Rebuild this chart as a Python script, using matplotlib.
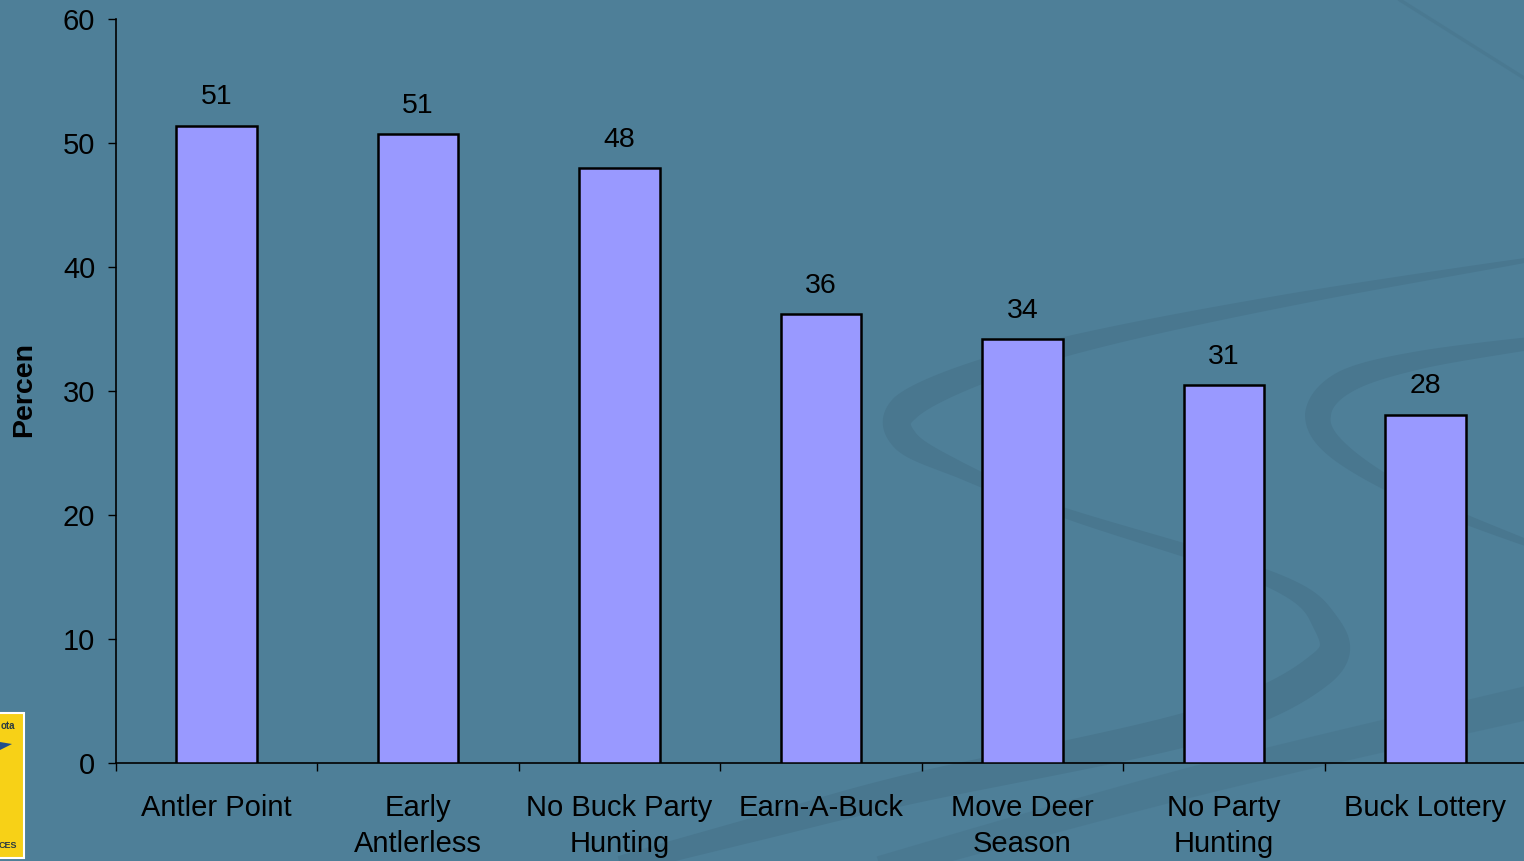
import matplotlib
matplotlib.use("Agg")
import matplotlib.pyplot as plt
from matplotlib.patches import Rectangle, Polygon
import numpy as np

categories = ["Antler Point", "Early\nAntlerless", "No Buck Party\nHunting", "Earn-A-Buck",
              "Move Deer\nSeason", "No Party\nHunting", "Buck Lottery"]
values = [51.4, 50.7, 48.0, 36.2, 34.2, 30.5, 28.1]
value_labels = ["51", "51", "48", "36", "34", "31", "28"]
y_ticks = [0, 10, 20, 30, 40, 50, 60]

BG = "#4E7F98"
SW = "#49778F"
BAR = "#9999FF"

plt.rcParams['font.family'] = ['Liberation Sans', 'DejaVu Sans']

W, H = 1524, 861
fig = plt.figure(figsize=(W / 100, H / 100), dpi=100)
fig.patch.set_facecolor(BG)


def catmull(pts, n=20):
    pts = np.asarray(pts, float)
    P = np.vstack([pts[0], pts, pts[-1]])
    out = []
    for i in range(1, len(P) - 2):
        p0, p1, p2, p3 = P[i - 1], P[i], P[i + 1], P[i + 2]
        for t in np.linspace(0, 1, n, endpoint=False):
            t2, t3 = t * t, t * t * t
            out.append(0.5 * ((2 * p1) + (-p0 + p2) * t + (2 * p0 - 5 * p1 + 4 * p2 - p3) * t2
                              + (-p0 + 3 * p1 - 3 * p2 + p3) * t3))
    out.append(pts[-1])
    return np.array(out)


def band(ax, pts, widths, **kw):
    c = catmull(pts)
    w = np.interp(np.linspace(0, 1, len(c)), np.linspace(0, 1, len(widths)), widths)
    d = np.gradient(c, axis=0)
    nrm = np.stack([-d[:, 1], d[:, 0]], axis=1)
    nrm /= np.linalg.norm(nrm, axis=1, keepdims=True)
    a = c + nrm * (w[:, None] / 2)
    b = c - nrm * (w[:, None] / 2)
    ax.add_patch(Polygon(np.vstack([a, b[::-1]]), closed=True, ec='none', **kw))


bg = fig.add_axes([0, 0, 1, 1], zorder=0)
bg.set_xlim(0, W); bg.set_ylim(H, 0); bg.axis('off')
bg.set_facecolor(BG)
# big S swoosh
band(bg, [(1540, 258), (1300, 298), (1101, 338), (980, 372), (905, 408), (905, 440),
          (960, 470), (1062, 512), (1267, 578), (1325, 622), (1322, 668), (1199, 726),
          (906, 790), (760, 828), (620, 865)],
     [4, 12, 18, 24, 30, 26, 16, 10, 16, 26, 34, 34, 30, 24, 18], fc=SW)
# second S swoosh
band(bg, [(1540, 342), (1420, 360), (1345, 382), (1318, 415), (1340, 452), (1420, 500), (1540, 548)],
     [12, 18, 24, 26, 20, 12, 6], fc=SW)
# lower band
band(bg, [(880, 868), (1200, 780), (1540, 700)], [24, 30, 34], fc=SW, alpha=0.7)
# faint top-right line
bg.plot([1400, 1524], [0, 78], color=SW, lw=2.5, alpha=0.7)
# logo
bg.add_patch(Rectangle((-2, 713), 26, 145, fc="#F7D117", ec="white", lw=1.5))
bg.text(1, 726, "ota", fontsize=7, fontweight='bold', color="#2A3A40", va='center')
bg.add_patch(Polygon([[0, 742], [12, 744], [0, 750]], closed=True, fc="#1F4E8C", ec='none'))
bg.text(-1, 845, "CES", fontsize=6.5, fontweight='bold', color="#2A3A40", va='center')

ax = fig.add_axes([116 / W, 98 / H, 1410 / W, 744 / H], zorder=1)
ax.patch.set_alpha(0)
x = np.arange(len(categories))
ax.bar(x, values, width=0.40, color=BAR, edgecolor='black', linewidth=1.8, zorder=3)
for xi, v, lab in zip(x, values, value_labels):
    ax.annotate(lab, (xi, v), xytext=(0, 11), textcoords='offset points',
                ha='center', va='bottom', fontsize=20.5, color='black')

ax.set_xlim(-0.5, len(categories) - 0.5)
ax.set_ylim(0, 60)
ax.set_yticks(y_ticks)
ax.set_yticklabels([str(t) for t in y_ticks], fontsize=21)
ax.set_xticks(np.arange(-0.5, len(categories), 1.0))
ax.set_xticklabels([])
ax.set_xticks(x, minor=True)
ax.set_xticklabels(categories, minor=True, fontsize=21, linespacing=1.38)
ax.tick_params(axis='x', which='major', length=6, width=1, color='black', direction='out')
ax.tick_params(axis='x', which='minor', length=0, pad=22)
ax.tick_params(axis='y', length=6, width=1, pad=9)
for s in ['top', 'right']:
    ax.spines[s].set_visible(False)
for s in ['left', 'bottom']:
    ax.spines[s].set_linewidth(1.2)

fig.text(24 / W, 1 - 389 / H, "Percen", rotation=90, fontsize=20.5, fontweight='bold',
         ha='center', va='center', color='black')

fig.savefig("out.png", dpi=100, facecolor=BG)
